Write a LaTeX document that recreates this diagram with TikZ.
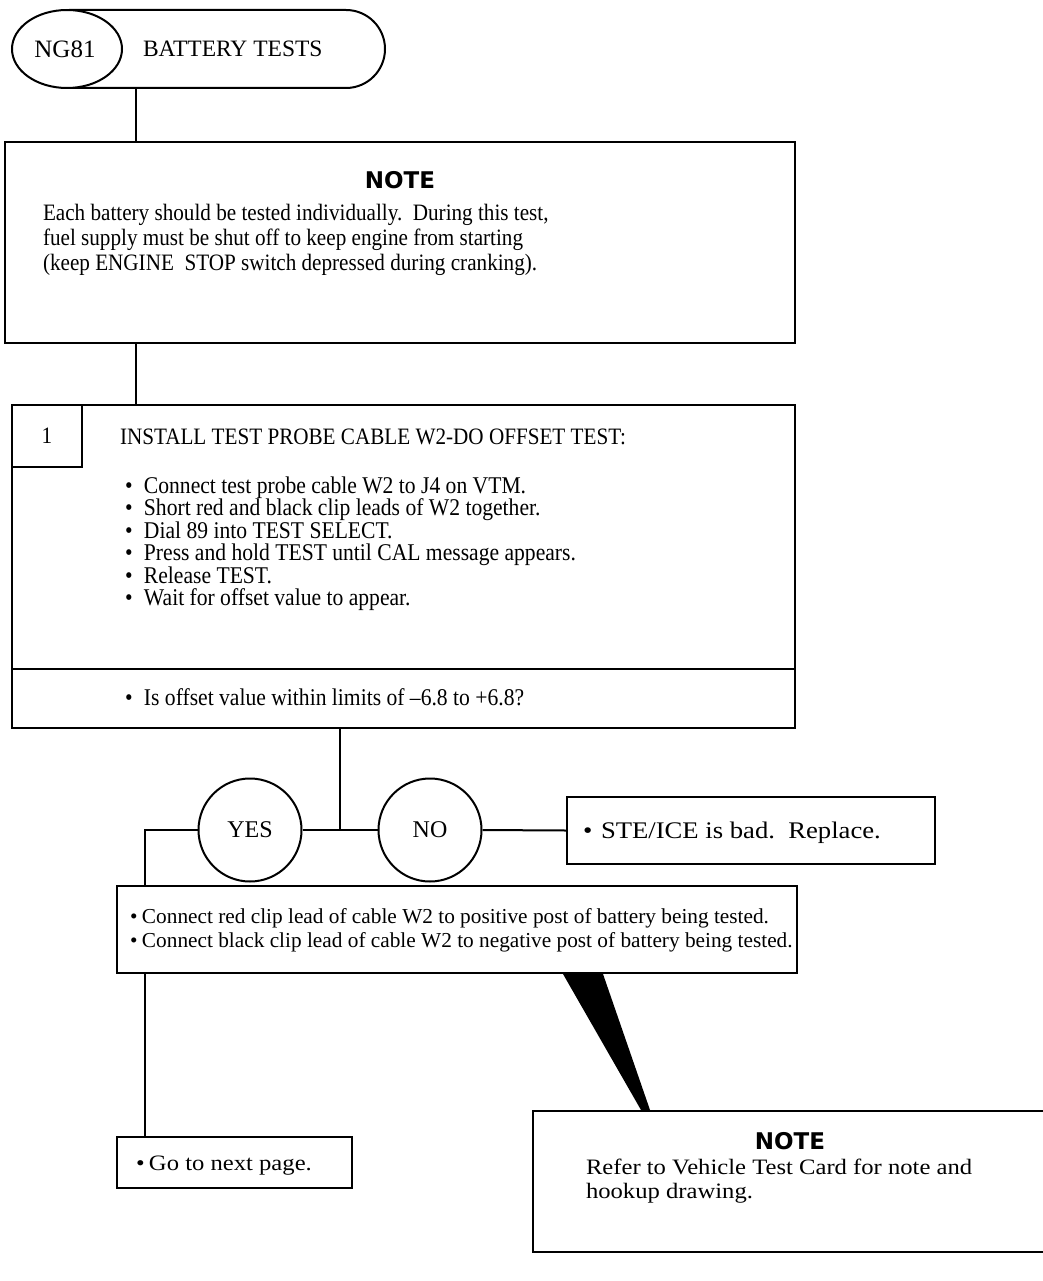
\documentclass[tikz,border=0pt]{standalone}
\usepackage{fontspec}
\defaultfontfeatures{Ligatures=TeX}
\setmainfont{Liberation Serif}
\newfontfamily\condfont[FakeStretch=0.9]{Liberation Serif}
\newfontfamily\widefont[FakeStretch=1.12]{Liberation Serif}
\newfontfamily\headfont{DejaVu Sans}
\usetikzlibrary{fit,shapes.geometric}
\newcommand{\bul}[1]{\makebox[#1][l]{\textbullet}}
\begin{document}
\begin{tikzpicture}[x=1pt,y=-1pt,line width=2pt,
  box/.style={draw,rectangle,inner sep=0pt},
  txt/.style={inner sep=0pt,anchor=base west},
  body/.style={font=\condfont\fontsize{23.5}{23.5}\selectfont},
  bull/.style={font=\condfont\fontsize{24}{24}\selectfont},
  conn/.style={font=\fontsize{21.3}{21.3}\selectfont},
  cond/.style={font=\condfont\fontsize{23.5}{23.5}\selectfont},
  wide/.style={font=\widefont\fontsize{22}{22}\selectfont},
  head/.style={inner sep=0pt,font=\headfont\bfseries\fontsize{23}{23}\selectfont},
  dec/.style={draw,circle,minimum size=103pt,inner sep=0pt,fill=white,font=\fontsize{24}{24}\selectfont}]
\useasboundingbox (0,0) rectangle (1042,1281);

% title
\node[box,rounded corners=39pt,fit={(30,10)(385,88)}] (title) {};
\node[draw,ellipse,fill=white,minimum width=110pt,minimum height=78pt,inner sep=0pt] (ng) at (67,49) {};
\node[inner sep=0pt,font=\fontsize{25}{25}\selectfont] (ngt) at (65,49) {NG81};
\node[txt,font=\fontsize{23.5}{23.5}\selectfont] (tt) at (142,57) {BATTERY TESTS};

% note 1
\node[box,fit={(5,142)(795,343)}] (note1) {};
\node[head] (n1h) at (400,180) {NOTE};
\node[txt,cond] (n1a) at (42,221) {Each battery should be tested individually.\ \ During this test,};
\node[txt,cond] (n1b) at (42,245.5) {fuel supply must be shut off to keep engine from starting};
\node[txt,cond] (n1c) at (42,270) {(keep ENGINE\ \ STOP switch depressed during cranking).};

% step 1
\node[box,fit={(12,405)(795,728)}] (step) {};
\node[box,fit={(12,405)(82,467)}] (num) {};
\node[inner sep=0pt,body] (numt) at (num.center) {1};
\coordinate (dv) at (0,669);
\draw (step.west |- dv) -- (step.east |- dv);
\node[txt,body] (s0) at (119,444) {INSTALL TEST PROBE CABLE W2-DO OFFSET TEST:};
\node[txt,bull] (s1) at (124,493) {\bul{19pt}Connect test probe cable W2 to J4 on VTM.};
\node[txt,bull] (s2) at (124,515.5) {\bul{19pt}Short red and black clip leads of W2 together.};
\node[txt,bull] (s3) at (124,538) {\bul{19pt}Dial 89 into TEST SELECT.};
\node[txt,bull] (s4) at (124,560.5) {\bul{19pt}Press and hold TEST until CAL message appears.};
\node[txt,bull] (s5) at (124,583) {\bul{19pt}Release TEST.};
\node[txt,bull] (s6) at (124,605.5) {\bul{19pt}Wait for offset value to appear.};
\node[txt,bull] (s7) at (124,705) {\bul{19pt}Is offset value within limits of –6.8 to +6.8?};

% decisions
\node[dec] (yes) at (250,830) {YES};
\node[dec] (no) at (430,830) {NO};
\node[box,fit={(567,797)(935,864)}] (ste) {};
\node[txt,font=\widefont\fontsize{23.8}{23.8}\selectfont] (stet) at (582,838) {\bul{18pt}STE/ICE is bad.\ \ Replace.};

% connect box
\node[box,fit={(117,886)(797,973)}] (conn) {};
\node[txt,conn] (c1t) at (129,923) {\bul{12pt}Connect red clip lead of cable W2 to positive post of battery being tested.};
\node[txt,conn] (c2t) at (129,947) {\bul{12pt}Connect black clip lead of cable W2 to negative post of battery being tested.};

% go box
\node[box,fit={(117,1137)(352,1188)}] (go) {};
\node[txt,wide] (got) at (135,1170) {\bul{13pt}Go to next page.};

% note 2
\node[box,fit={(533,1111)(1052,1252)}] (note2) {};
\node[head] (n2h) at (790,1141) {NOTE};
\node[txt,wide] (n2a) at (585,1174) {Refer to Vehicle Test Card for note and};
\node[txt,wide] (n2b) at (585,1198) {hookup drawing.};

% connectors
\coordinate (x1) at (136,0);
\coordinate (x2) at (340,0);
\coordinate (x3) at (145,0);
\draw (title.south -| x1) -- (note1.north -| x1);
\draw (note1.south -| x1) -- (step.north -| x1);
\draw (step.south -| x2) -- (yes.east -| x2);
\draw (yes.east) -- (no.west);
\draw (no.east) -- (ste.west);
\draw (yes.west) -- (yes.west -| x3) -- (conn.north -| x3);
\draw (conn.south -| x3) -- (go.north -| x3);
\fill (conn.south -| 563,0) -- (conn.south -| 603,0) -- (note2.north -| 650,0) -- (note2.north -| 641,0) -- cycle;
\end{tikzpicture}
\end{document}
